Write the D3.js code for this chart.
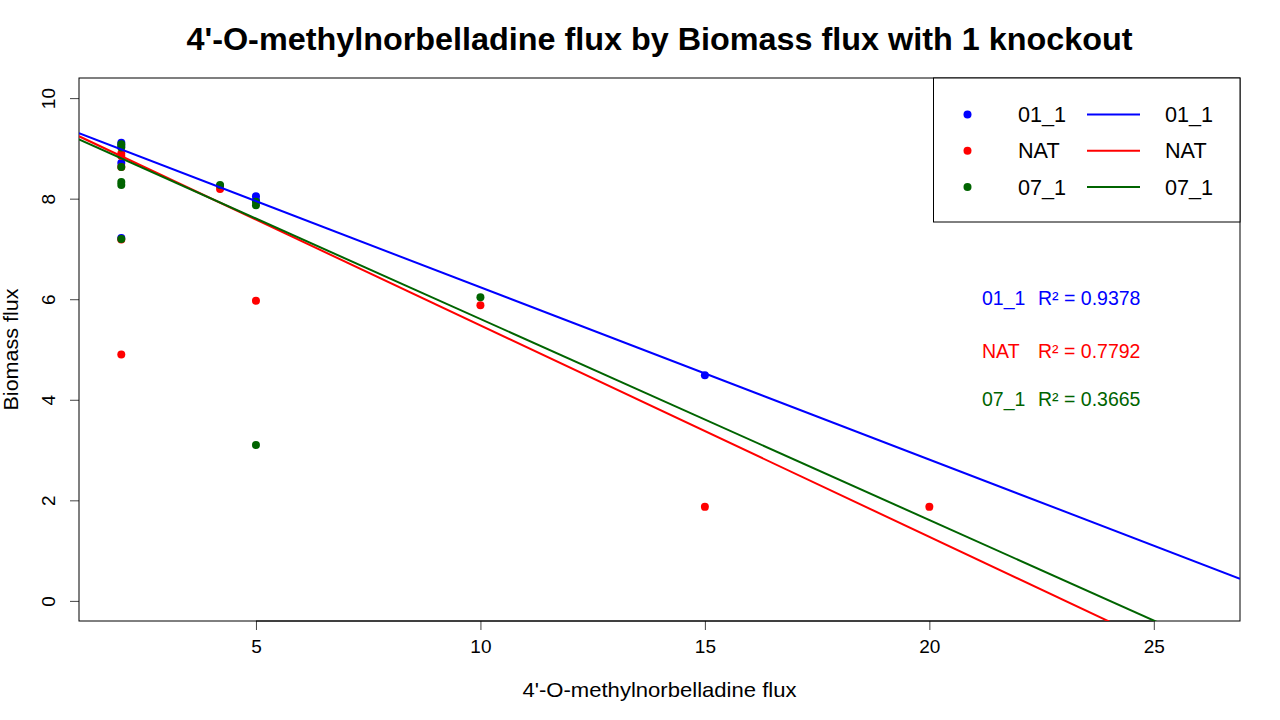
<!DOCTYPE html>
<html><head><meta charset="utf-8">
<script src="https://cdn.jsdelivr.net/npm/d3@7"></script>
<style>body{margin:0;background:#fff}svg{display:block}text{font-family:"Liberation Sans",Arial,Helvetica,sans-serif}</style>
</head><body>
<svg id="c" width="1280" height="720"></svg>
<script>
const seriesNames = ["01_1", "NAT", "07_1"];
const seriesColors = ["#0000ff", "#ff0000", "#006400"];
// points [x, y] per series
const pts01 = [[2,9.11],[2,9.05],[2,8.71],[2,7.22],[4.2,8.25],[5,8.05],[5,7.97],[15,4.49]];
const ptsNAT = [[2,8.9],[2,8.85],[2,8.63],[2,7.19],[2,4.9],[4.2,8.19],[5,5.97],[10,5.88],[15,1.87],[20,1.87]];
const pts07 = [[2,9.08],[2,9.02],[2,8.63],[2,8.33],[2,8.27],[2,7.2],[4.2,8.27],[5,7.94],[5,7.87],[5,3.1],[10,6.04]];
// fitted lines: intercept, slope
const intercepts = [9.663, 9.686, 9.604];
const slopes = [-0.3426, -0.4206, -0.3998];
const r2 = ["0.9378", "0.7792", "0.3665"];
const xTicks = [5, 10, 15, 20, 25];
const yTicks = [0, 2, 4, 6, 8, 10];
const titleText = "4'-O-methylnorbelladine flux by Biomass flux with 1 knockout";
const xLabel = "4'-O-methylnorbelladine flux";
const yLabel = "Biomass flux";

const svg = d3.select("#c");
const L = 79, R = 1240, T = 78, B = 621;
const x = d3.scaleLinear().domain([1.058, 26.92]).range([L, R]);
const y = d3.scaleLinear().domain([-0.4, 10.4]).range([B, T]);

svg.append("defs").append("clipPath").attr("id","pc")
  .append("rect").attr("x",L).attr("y",T).attr("width",R-L).attr("height",B-T);

// x axis
const xa = svg.append("g").attr("transform",`translate(0,${B})`)
  .call(d3.axisBottom(x).tickValues(xTicks).tickSize(9).tickPadding(10).tickFormat(d3.format("d")));
xa.select(".domain").remove();
xa.append("line").attr("x1",x(5)).attr("x2",x(25)).attr("stroke","#000");
xa.selectAll(".tick line").attr("stroke","#444");
xa.selectAll("text").attr("font-size",19).attr("fill","#000").attr("font-family","Liberation Sans, Arial, sans-serif");

// y axis
const ya = svg.append("g").attr("transform",`translate(${L},0)`)
  .call(d3.axisLeft(y).tickValues(yTicks).tickSize(9).tickFormat(d3.format("d")));
ya.select(".domain").remove();
ya.selectAll(".tick line").attr("stroke","#444");
ya.selectAll("text").remove();
ya.selectAll(".tick").append("text").attr("transform","translate(-31,0) rotate(-90)")
  .attr("text-anchor","middle").attr("dy","0.35em").attr("font-size",19).attr("fill","#000")
  .attr("font-family","Liberation Sans, Arial, sans-serif").text(d=>d);

// box
svg.append("rect").attr("x",L).attr("y",T).attr("width",R-L).attr("height",B-T)
  .attr("fill","none").attr("stroke","#000").attr("stroke-width",1);

const plot = svg.append("g").attr("clip-path","url(#pc)");
const allPts = [pts01, ptsNAT, pts07];
allPts.forEach((p,i)=>{
  plot.selectAll(null).data(p).enter().append("circle")
    .attr("cx",d=>x(d[0])).attr("cy",d=>y(d[1])).attr("r",4).attr("fill",seriesColors[i]);
});
seriesNames.forEach((n,i)=>{
  const x0 = x.domain()[0], x1 = x.domain()[1];
  plot.append("line").attr("x1",x(x0)).attr("y1",y(intercepts[i]+slopes[i]*x0))
    .attr("x2",x(x1)).attr("y2",y(intercepts[i]+slopes[i]*x1))
    .attr("stroke",seriesColors[i]).attr("stroke-width",2);
});

// title & labels
svg.append("text").attr("x",(L+R)/2).attr("y",50).attr("text-anchor","middle")
  .attr("font-size",31).attr("font-weight","bold").attr("textLength",946).attr("lengthAdjust","spacingAndGlyphs").text(titleText);
svg.append("text").attr("x",(L+R)/2).attr("y",697).attr("text-anchor","middle")
  .attr("font-size",21).attr("textLength",274).attr("lengthAdjust","spacingAndGlyphs").text(xLabel);
svg.append("text").attr("transform",`translate(18,${(T+B)/2}) rotate(-90)`).attr("text-anchor","middle")
  .attr("font-size",21).attr("textLength",122).attr("lengthAdjust","spacingAndGlyphs").text(yLabel);

// legend
const lg = svg.append("g");
lg.append("rect").attr("x",933.5).attr("y",T).attr("width",R-933.5).attr("height",144)
  .attr("fill","#fff").attr("stroke","#000");
seriesNames.forEach((n,i)=>{
  const ry = 114.5 + i*36.2;
  lg.append("circle").attr("cx",967.5).attr("cy",ry).attr("r",4).attr("fill",seriesColors[i]);
  lg.append("text").attr("x",1018).attr("y",ry).attr("dy","0.36em").attr("font-size",21.6).text(n);
  lg.append("line").attr("x1",1087).attr("x2",1140).attr("y1",ry).attr("y2",ry)
    .attr("stroke",seriesColors[i]).attr("stroke-width",2);
  lg.append("text").attr("x",1165).attr("y",ry).attr("dy","0.36em").attr("font-size",21.6).text(n);
});

// R² annotations
const ry2 = [298, 351, 399];
seriesNames.forEach((n,i)=>{
  const t = svg.append("text").attr("y",ry2[i]).attr("dy","0.36em").attr("font-size",19.5).attr("fill",seriesColors[i]);
  t.append("tspan").attr("x",982).text(n);
  t.append("tspan").attr("x",1038).text("R² = " + r2[i]);
});
</script>
</body></html>
